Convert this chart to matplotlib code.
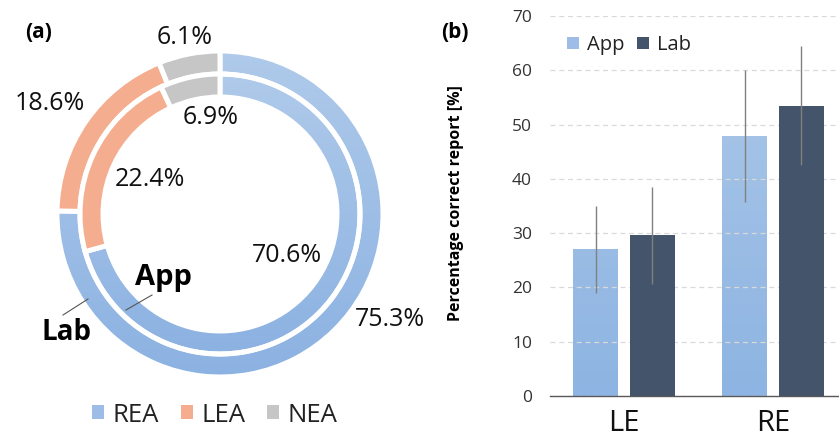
import numpy as np
import matplotlib
matplotlib.use("Agg")
import matplotlib.pyplot as plt
from matplotlib.patches import Patch
from matplotlib.colors import LinearSegmentedColormap

plt.rcParams['font.family'] = ['Open Sans', 'DejaVu Sans']

# ---------------- data ----------------
ring_categories = ['REA', 'LEA', 'NEA']
lab_share = [75.3, 18.6, 6.1]
app_share = [70.6, 22.4, 6.9]
ring_colors = ['#9dbde6', '#f4ae8f', '#c6c6c6']

groups = ['LE', 'RE']
series = ['App', 'Lab']
app_means = [27.0, 47.9]
app_err = [8.0, 12.2]
lab_means = [29.6, 53.5]
lab_err = [8.9, 11.0]

W, H = 839, 432
fig = plt.figure(figsize=(W / 100, H / 100), dpi=100)

# ---------------- (a) donut ----------------
axa = fig.add_axes([0, 0, 440 / W, 1])
cx, cy = 220, H - 214

def gradient_fill(ax, patch, top, bottom, extent, z):
    cmap = LinearSegmentedColormap.from_list('g', [bottom, top])
    grad = np.linspace(0, 1, 256).reshape(-1, 1)
    im = ax.imshow(grad, cmap=cmap, origin='lower', extent=extent,
                   aspect='auto', zorder=z, interpolation='bicubic')
    im.set_clip_path(patch)

for vals, r in [(lab_share, 163), (app_share, 140)]:
    wedges, _ = axa.pie(vals, colors=ring_colors, startangle=90, counterclock=False,
                        center=(cx, cy), radius=r,
                        wedgeprops=dict(width=23, edgecolor='white', linewidth=3.6))
    for w, c in zip(wedges, ring_colors):
        w.set_zorder(3)
        if c == ring_colors[0]:
            w.set_facecolor('none')
            gradient_fill(axa, w, '#afcaea', '#8cb2e2', (cx - r, cx + r, cy - r, cy + r), 2)

axa.set_xlim(0, 440)
axa.set_ylim(0, H)
axa.set_aspect('equal')
axa.axis('off')

fs_pct = 18
lab_pos = [(390, 320), (50, 103), (185, 37)]
app_pos = [(287, 255), (150, 180), (211, 117)]
for v, (x, y) in zip(lab_share, lab_pos):
    axa.text(x, H - y, f"{v}%", ha='center', va='center', fontsize=fs_pct, color='#111111')
for v, (x, y) in zip(app_share, app_pos):
    axa.text(x, H - y, f"{v}%", ha='center', va='center', fontsize=fs_pct, color='#111111')

axa.text(163, H - 277, 'App', ha='center', va='center', fontsize=21, fontweight='bold')
axa.text(67, H - 333, 'Lab', ha='center', va='center', fontsize=20, fontweight='bold')
axa.plot([63, 88], [H - 315, H - 299], color='#555555', lw=0.8, zorder=5)
axa.plot([126, 152], [H - 310, H - 295], color='#555555', lw=0.8, zorder=5)
axa.text(39, H - 33, '(a)', ha='center', va='center', fontsize=15, fontweight='bold')

handles_a = [Patch(facecolor=c, edgecolor='none') for c in ring_colors]
axa.legend(handles_a, ring_categories, loc='center', ncol=3,
           bbox_to_anchor=(215 / 440, (H - 415) / H), frameon=False,
           fontsize=18.5, handlelength=0.45, handleheight=0.45,
           handletextpad=0.35, columnspacing=0.85, labelcolor='#222222')

# ---------------- (b) bars ----------------
axb = fig.add_axes([550 / W, (H - 396) / H, (W - 550) / W, 380 / H])
x = np.arange(len(groups))
bw = 0.302
off = 0.191
app_bars = axb.bar(x - off, app_means, bw, color='#9dbde6', zorder=2)
lab_bars = axb.bar(x + off, lab_means, bw, color='#44546a', zorder=2)
for b in app_bars:
    b.set_facecolor('none')
    x0 = b.get_x()
    gradient_fill(axb, b, '#aec9e9', '#8db4e2', (x0, x0 + b.get_width(), 0, 70), 1.5)
axb.errorbar(x - off, app_means, yerr=app_err, fmt='none', ecolor='#808080', elinewidth=1.0, capsize=0, zorder=4)
axb.errorbar(x + off, lab_means, yerr=lab_err, fmt='none', ecolor='#808080', elinewidth=1.0, capsize=0, zorder=4)

axb.set_xlim(-0.497, 1.443)
axb.set_ylim(0, 70)
axb.set_yticks(range(0, 71, 10))
axb.tick_params(axis='y', length=0, pad=13, labelsize=12.5, labelcolor='#333333')
axb.set_xticks([])
axb.yaxis.grid(True, linestyle=(0, (4, 3)), color='#d9d9d9', lw=0.9, zorder=0)
for s in ['top', 'right', 'left']:
    axb.spines[s].set_visible(False)
axb.spines['bottom'].set_color('#595959')
axb.spines['bottom'].set_linewidth(1.0)
axb.set_ylabel('Percentage correct report [%]', fontsize=11.5, fontweight='bold')
axb.yaxis.set_label_coords((464 - 550) / (W - 550), 0.508)

for gx, g in zip(x, groups):
    axb.text(gx, -(431 - 396) / 380 * 70, g, ha='center', va='baseline', fontsize=21,
             color='#111111', clip_on=False)

handles_b = [Patch(facecolor='#9dbde6'), Patch(facecolor='#44546a')]
fig.legend(handles_b, series, loc='center', ncol=2,
           bbox_to_anchor=(629 / W, 1 - 45 / H), frameon=False,
           fontsize=14.5, handlelength=0.6, handleheight=0.6,
           handletextpad=0.4, columnspacing=0.6, labelcolor='#222222')

fig.text(455 / W, 1 - 33 / H, '(b)', ha='center', va='center', fontsize=15, fontweight='bold')

fig.savefig('out.png', dpi=100)
